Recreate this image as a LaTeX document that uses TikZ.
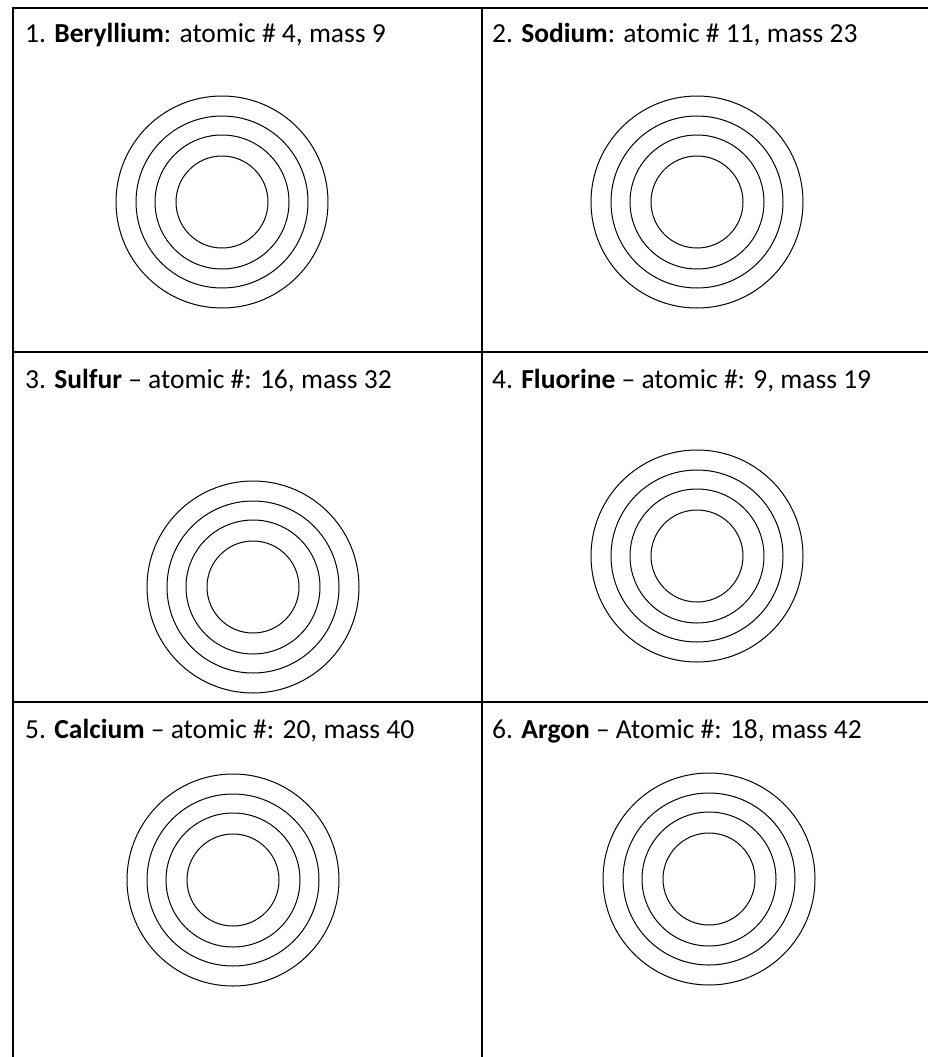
\documentclass[tikz,border=0pt]{standalone}
\usepackage{fontspec}
\setmainfont{Carlito}
\begin{document}
\begin{tikzpicture}[x=1pt,y=-1pt,
  grid/.style={line width=2pt,black},
  shell/.style={line width=1pt,black},
  label/.style={anchor=base west,inner sep=0pt,font=\fontsize{27.5}{33}\selectfont}]
\useasboundingbox (0,0) rectangle (928,1057);
% table lines
\draw[grid] (13,1057) -- (13,8) -- (928,8);
\draw[grid] (482,8) -- (482,1057);
\draw[grid] (13,352) -- (928,352);
\draw[grid] (13,702) -- (928,702);
% labels
\node[label] (t1) at (25,43) {1. \textbf{Beryllium}: atomic \# 4, mass 9};
\node[label] (t2) at (492,43) {2. \textbf{Sodium}: atomic \# 11, mass 23};
\node[label] (t3) at (25,388) {3. \textbf{Sulfur} – atomic \#: 16, mass 32};
\node[label] (t4) at (492,388) {4. \textbf{Fluorine} – atomic \#: 9, mass 19};
\node[label] (t5) at (25,738) {5. \textbf{Calcium} – atomic \#: 20, mass 40};
\node[label] (t6) at (492,738) {6. \textbf{Argon} – Atomic \#: 18, mass 42};
% shells
\foreach \cx/\cy in {222/202, 697/202, 253/587, 697/556, 233/880, 709/879}{
  \foreach \r in {46,67,86,106}{
    \draw[shell] (\cx,\cy) circle[radius=\r];
  }
}
\end{tikzpicture}
\end{document}
